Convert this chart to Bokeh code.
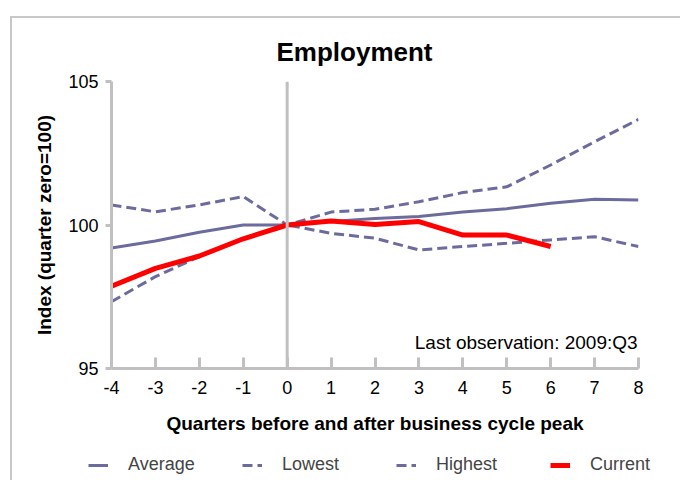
from bokeh.plotting import figure
from bokeh.layouts import column
from bokeh.models import Range1d, Span, Label, Legend, LegendItem, FixedTicker
from bokeh.embed import file_html
from bokeh.resources import INLINE

quarters = list(range(-4, 9))
average = [99.2, 99.44, 99.75, 100.0, 100.0, 100.12, 100.23, 100.3, 100.45, 100.57, 100.76, 100.9, 100.87]
lowest = [97.33, 98.2, 98.9, 99.53, 100.0, 99.71, 99.54, 99.13, 99.25, 99.36, 99.48, 99.59, 99.25]
highest = [100.7, 100.46, 100.7, 100.99, 100.0, 100.45, 100.55, 100.81, 101.13, 101.33, 102.09, 102.9, 103.68]
current_quarters = list(range(-4, 7))
current = [97.87, 98.49, 98.92, 99.52, 100.0, 100.14, 100.02, 100.12, 99.65, 99.65, 99.25]
y_ticks = [95, 100, 105]
series_names = ["Average", "Lowest", "Highest", "Current"]

FONT = "Liberation Sans"
LINE = "#6b6b9e"
RED = "#ff0000"
AXIS = "#c0c0c0"

p = figure(width=668, height=430, output_backend="svg", toolbar_location=None,
           x_range=Range1d(-4, 8), y_range=Range1d(95, 105),
           min_border_left=99, min_border_right=42, min_border_top=63, min_border_bottom=80)
p.outline_line_color = None
p.grid.visible = False

p.title.text = "Employment"
p.title.align = "left"
p.title.offset = 165
p.title.standoff = 30
p.title.text_font = FONT
p.title.text_font_size = "26px"
p.title.text_font_style = "bold"
p.title.text_color = "black"

for ax in (p.xaxis[0], p.yaxis[0]):
    ax.axis_line_color = AXIS
    ax.axis_line_width = 3
    ax.major_tick_line_color = AXIS
    ax.major_tick_line_width = 3
    ax.minor_tick_line_color = None
    ax.major_label_text_font = FONT
    ax.major_label_text_font_size = "18px"
    ax.major_label_text_color = "black"
    ax.axis_label_text_font = FONT
    ax.axis_label_text_font_size = "19px"
    ax.axis_label_text_font_style = "bold"
    ax.axis_label_text_color = "black"

p.xaxis.ticker = FixedTicker(ticks=quarters)
p.xaxis.major_label_overrides = {q: str(q) for q in quarters}
p.xaxis.major_tick_in = 11
p.xaxis.major_tick_out = 0
p.xaxis.major_label_standoff = 12
p.xaxis.axis_label = "Quarters before and after business cycle peak"
p.xaxis.axis_label_standoff = 16

p.yaxis.ticker = FixedTicker(ticks=y_ticks)
p.yaxis.major_tick_in = 0
p.yaxis.major_tick_out = 6
p.yaxis.major_label_standoff = 7
p.yaxis.axis_label = "Index (quarter zero=100)"
p.yaxis.axis_label_standoff = 10

p.add_layout(Span(location=0, dimension="height", line_color=AXIS, line_width=3))

p.line(quarters, average, line_color=LINE, line_width=3)
p.line(quarters, lowest, line_color=LINE, line_width=3, line_dash="10 5")
p.line(quarters, highest, line_color=LINE, line_width=3, line_dash="10 5")
p.line(current_quarters, current, line_color=RED, line_width=5)

p.add_layout(Label(x=7.98, y=95.92, text="Last observation: 2009:Q3", text_align="right",
                   text_baseline="alphabetic", text_font=FONT, text_font_size="19px",
                   text_color="black"))

# legend strip (same series, drawn outside its visible range so only the legend shows)
lg = figure(width=668, height=32, output_backend="svg", toolbar_location=None,
            x_range=Range1d(0, 1), y_range=Range1d(0, 1),
            x_axis_location=None, y_axis_location=None,
            min_border_left=0, min_border_right=0, min_border_top=0, min_border_bottom=0)
lg.outline_line_color = None
lg.grid.visible = False
for fig in (p, lg):
    if "frame_align" in fig.properties():
        fig.frame_align = False
l_avg = lg.line(quarters, average, line_color=LINE, line_width=3)
l_low = lg.line(quarters, lowest, line_color=LINE, line_width=3, line_dash="10 5")
l_high = lg.line(quarters, highest, line_color=LINE, line_width=3, line_dash="10 5")
l_cur = lg.line(current_quarters, current, line_color=RED, line_width=5)

legend = Legend(items=[LegendItem(label=n, renderers=[r]) for n, r in
                       zip(series_names, [l_avg, l_low, l_high, l_cur])],
                orientation="horizontal", location=(76, 5),
                glyph_width=20, glyph_height=18, label_standoff=20, label_width=69,
                spacing=45, padding=0, margin=0, border_line_color=None,
                background_fill_alpha=0,
                label_text_font=FONT, label_text_font_size="18px")
lg.add_layout(legend, "center")

layout = column(p, lg, spacing=0,
                styles={"position": "relative", "left": "10px", "top": "16px",
                        "border-top": "2px solid #c8c8c8", "border-left": "2px solid #c8c8c8"})

open("out.html", "w").write(file_html(layout, INLINE))
